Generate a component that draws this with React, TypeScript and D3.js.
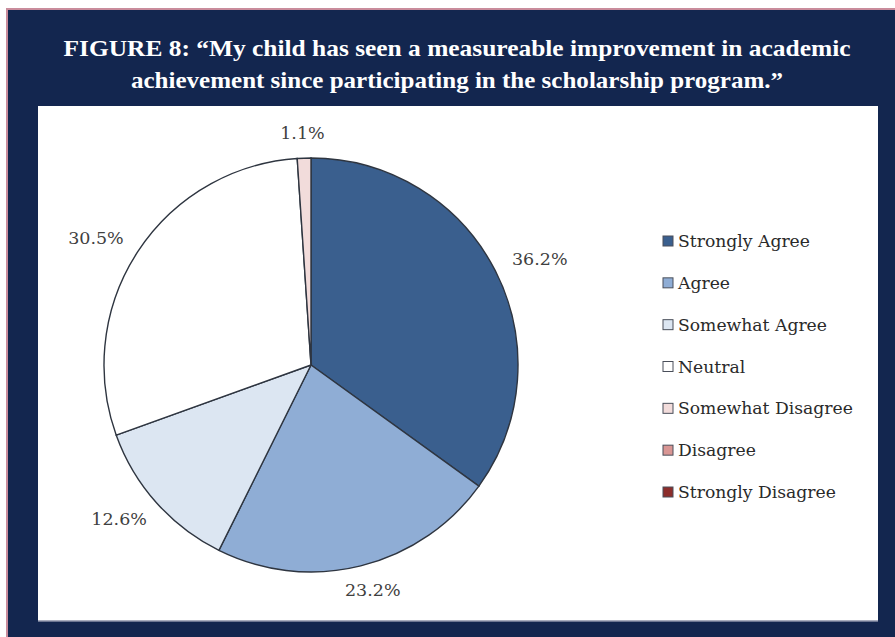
import React from "react";
import * as d3 from "d3";

const categories = [
  "Strongly Agree",
  "Agree",
  "Somewhat Agree",
  "Neutral",
  "Somewhat Disagree",
  "Disagree",
  "Strongly Disagree",
];
const values = [36.2, 23.2, 12.6, 30.5, 1.1, 0, 0];
const labels = ["36.2%", "23.2%", "12.6%", "30.5%", "1.1%", "", ""];
const colors = ["#3a5f8e", "#8fadd5", "#dce6f2", "#ffffff", "#f2dcdb", "#d99694", "#8c2d2b"];
const titleLines = [
  "FIGURE 8: \u201cMy child has seen a measureable improvement in academic",
  "achievement since participating in the scholarship program.\u201d",
];

const W = 895;
const H = 637;

export default function App() {
  const cx = 311;
  const cy = 365;
  const r = 207;
  const pie = d3.pie<number>().sort(null).value((d) => d);
  const arcs = pie(values);
  const arc = d3.arc<d3.PieArcDatum<number>>().innerRadius(0).outerRadius(r);
  const legendY = d3.scaleLinear().domain([0, 6]).range([241, 492]);

  return (
    <div style={{ position: "absolute", left: 0, top: 0 }}>
      <svg width={W} height={H} style={{ display: "block" }}>
        <rect x={0} y={0} width={W} height={H} fill="#ffffff" />
        <rect x={6} y={8} width={W - 6} height={H - 8} fill="#c98c9c" />
        <rect x={8} y={10} width={W - 8} height={H - 10} fill="#13264f" />
        {titleLines.map((t, i) => (
          <text
            key={i}
            x={457}
            y={56 + i * 32}
            textAnchor="middle"
            fill="#ffffff"
            fontFamily="Liberation Serif, serif"
            fontWeight="bold"
            fontSize={24}
            textLength={i === 0 ? 787 : 652}
            lengthAdjust="spacingAndGlyphs"
          >
            {t}
          </text>
        ))}
        <rect x={38} y={106} width={840} height={515} fill="#ffffff" />
        <line x1={38} y1={621} x2={878} y2={621} stroke="#8c92a8" strokeWidth={1.5} />
        <g transform={`translate(${cx},${cy})`}>
          {arcs.map((a, i) =>
            a.endAngle - a.startAngle > 0 ? (
              <path key={i} d={arc(a) || ""} fill={colors[i]} stroke="#2e3540" strokeWidth={1.4} />
            ) : null
          )}
          {arcs.map((a, i) => {
            if (!labels[i]) return null;
            const m = (a.startAngle + a.endAngle) / 2;
            const x = Math.sin(m) * (r + 50);
            const y = -Math.cos(m) * (r + 25);
            return (
              <text
                key={"l" + i}
                x={x}
                y={y}
                dy="0.35em"
                textAnchor="middle"
                fill="#404040"
                fontFamily="DejaVu Serif, serif"
                fontSize={17.5}
              >
                {labels[i]}
              </text>
            );
          })}
        </g>
        {categories.map((c, i) => (
          <g key={c} transform={`translate(663,${legendY(i)})`}>
            <rect x={0} y={-5} width={10} height={10} fill={colors[i]} stroke="#4a4f5a" strokeWidth={1} />
            <text
              x={15}
              y={0}
              dy="0.35em"
              fill="#2a2a2a"
              fontFamily="DejaVu Serif, serif"
              fontSize={17.2}
            >
              {c}
            </text>
          </g>
        ))}
      </svg>
    </div>
  );
}
